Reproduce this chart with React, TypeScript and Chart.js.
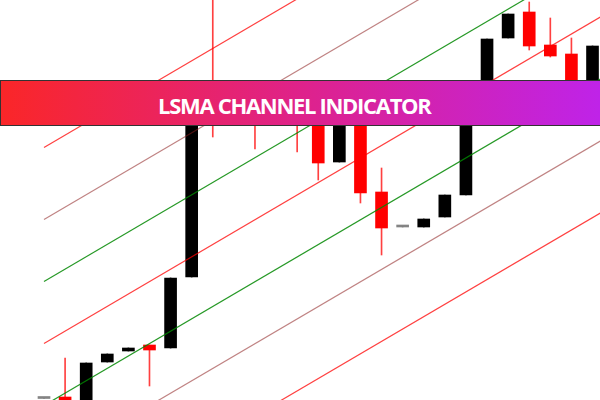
import React, { useEffect, useRef } from "react";
import { Chart, registerables } from "chart.js";

Chart.register(...registerables);

// Candle index positions (one per bar)
const candleIndex = [0, 1, 2, 3, 4, 5, 6, 7, 8, 9, 10, 11, 12, 13, 14, 15, 16, 17, 18, 19, 20, 21, 22, 23, 24, 25, 26];
// OHLC values (arbitrary price units)
const opens = [1.5, 3, -8, 38, 49, 55, 52, 123, 295, 284, 305, 290, 300, 290, 238, 290, 208, 173, 173, 183, 205, 300, 362, 388, 355, 346, 316];
const highs = [1.5, 42, 37, 46, 52, 55, 122, 295, 420, 305, 310, 310, 312, 295, 290, 292, 232, 173, 181, 205, 300, 361, 386, 398, 382, 362, 354];
const lows = [1.5, -8, -8, 38, 49, 14, 52, 123, 263, 280, 251, 280, 248, 220, 238, 197, 145, 173, 173, 183, 205, 300, 362, 350, 343, 295, 316];
const closes = [1.5, -4, 37, 46, 52, 50, 122, 295, 285, 300, 290, 300, 285, 237, 290, 207, 172, 173, 181, 205, 300, 361, 386, 354, 344, 300, 354];

// LSMA channel lines: values at the start and end index
const lineX = [0, 27];
const lsma = [56.5, 390.8];
const upper1 = [118.5, 452.8];
const lower1 = [-5.5, 328.8];
const upper2 = [180.5, 514.8];
const lower2 = [-67.5, 266.8];
const upper3 = [252.5, 586.8];
const lower3 = [-139.5, 194.8];

const title = "LSMA CHANNEL INDICATOR";

const RED = "#ff0000";
const BLACK = "#000000";
const GRAY = "rgba(110,110,110,0.85)";

function candleColor(i: number) {
  if (opens[i] === closes[i]) return GRAY;
  return closes[i] > opens[i] ? BLACK : RED;
}

function lineDs(label: string, vals: number[], color: string) {
  return {
    type: "line" as const,
    label,
    data: lineX.map((x, i) => ({ x, y: vals[i] })),
    borderColor: color,
    borderWidth: 1.2,
    pointRadius: 0,
    tension: 0,
    fill: false,
    order: 0,
  };
}

export default function App() {
  const ref = useRef<HTMLCanvasElement | null>(null);

  useEffect(() => {
    if (!ref.current) return;
    const redLine = "rgba(255,0,0,0.75)";
    const greenLine = "rgba(0,135,0,0.85)";
    const brownLine = "rgba(140,30,30,0.55)";
    const chart = new Chart(ref.current, {
      type: "bar",
      data: {
        datasets: [
          lineDs("LSMA", lsma, redLine),
          lineDs("Upper 1", upper1, greenLine),
          lineDs("Lower 1", lower1, greenLine),
          lineDs("Upper 2", upper2, brownLine),
          lineDs("Lower 2", lower2, brownLine),
          lineDs("Upper 3", upper3, redLine),
          lineDs("Lower 3", lower3, redLine),
          {
            type: "bar" as const,
            label: "Body",
            data: candleIndex.map((x, i) => ({ x, y: [opens[i], closes[i]] })) as any,
            backgroundColor: candleIndex.map((_, i) => candleColor(i)),
            barThickness: candleIndex.map((_, i) => (closes[i] < opens[i] ? 14 : 12)) as any,
            minBarLength: 2,
            grouped: false,
            borderWidth: 0,
            order: 1,
          },
          {
            type: "bar" as const,
            label: "Wick",
            data: candleIndex.map((x, i) => ({ x, y: [lows[i], highs[i]] })) as any,
            backgroundColor: candleIndex.map((_, i) =>
              closes[i] < opens[i] ? "rgba(255,0,0,0.75)" : candleColor(i)
            ),
            barThickness: 1,
            grouped: false,
            borderWidth: 0,
            order: 2,
          },
        ],
      },
      options: {
        animation: false,
        responsive: false,
        layout: { padding: 0 },
        plugins: { legend: { display: false }, tooltip: { enabled: false } },
        scales: {
          x: {
            type: "linear",
            min: -2.0857,
            max: 26.355,
            offset: false,
            display: false,
            grid: { display: false },
          },
          y: {
            type: "linear",
            min: 0,
            max: 400,
            display: false,
            grid: { display: false },
          },
        },
      },
    });
    return () => chart.destroy();
  }, []);

  return (
    <div
      style={{
        position: "fixed",
        left: 0,
        top: 0,
        width: 600,
        height: 400,
        overflow: "hidden",
        background: "#ffffff",
      }}
    >
      <canvas ref={ref} width={600} height={400} style={{ display: "block" }} />
      <div
        style={{
          position: "absolute",
          left: 0,
          top: 80,
          width: 610,
          height: 46,
          boxSizing: "border-box",
          border: "1.5px solid #333333",
          background: "linear-gradient(90deg, rgb(250,38,40) 0%, rgb(222,34,140) 50%, rgb(190,35,235) 100%)",
          display: "flex",
          alignItems: "center",
          justifyContent: "flex-start",
          paddingLeft: 157,
          paddingTop: 3,
          color: "#ffffff",
          fontFamily: "'Open Sans', sans-serif",
          fontWeight: 700,
          fontSize: 22,
          letterSpacing: -1.3,
          whiteSpace: "nowrap",
        }}
      >
        {title}
      </div>
    </div>
  );
}
